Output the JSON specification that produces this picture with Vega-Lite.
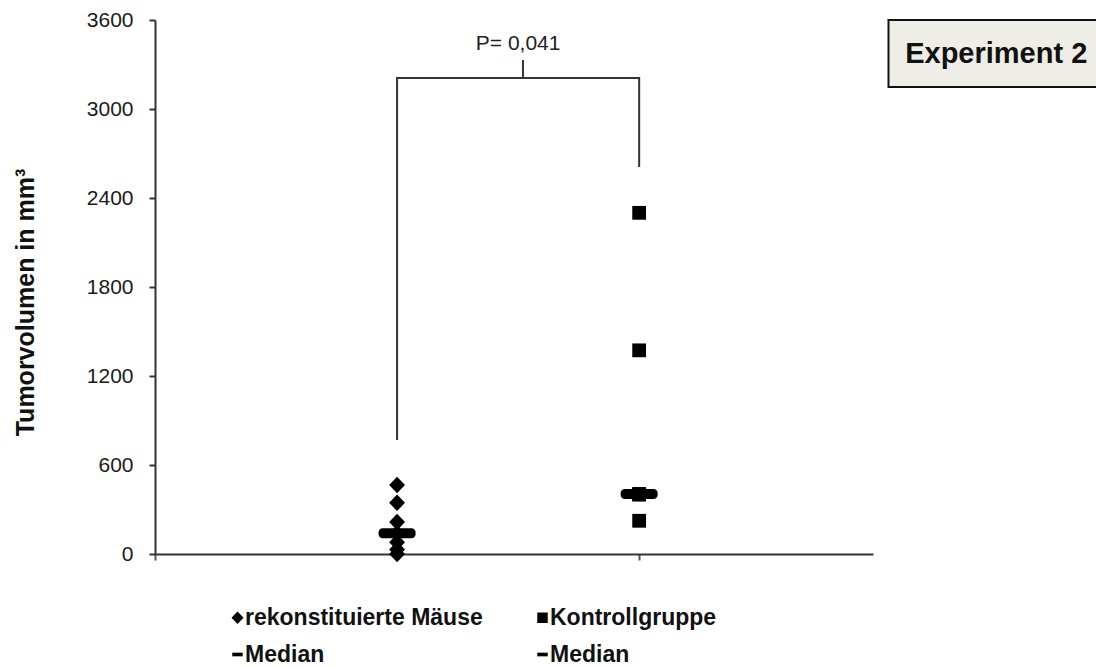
{
  "$schema": "https://vega.github.io/schema/vega-lite/v6.json",
  "width": 718,
  "height": 534,
  "autosize": {"type": "none"},
  "padding": {"left": 155, "top": 20, "right": 223, "bottom": 114},
  "background": "white",
  "config": {"view": {"stroke": null}, "font": "Liberation Sans"},
  "datasets": {
    "punkte": [
      {"gruppe": "rekonstituierte Mäuse", "pos": 1, "wert": 465},
      {"gruppe": "rekonstituierte Mäuse", "pos": 1, "wert": 345},
      {"gruppe": "rekonstituierte Mäuse", "pos": 1, "wert": 215},
      {"gruppe": "rekonstituierte Mäuse", "pos": 1, "wert": 140},
      {"gruppe": "rekonstituierte Mäuse", "pos": 1, "wert": 80},
      {"gruppe": "rekonstituierte Mäuse", "pos": 1, "wert": 30},
      {"gruppe": "rekonstituierte Mäuse", "pos": 1, "wert": 0},
      {"gruppe": "Kontrollgruppe", "pos": 2, "wert": 2300},
      {"gruppe": "Kontrollgruppe", "pos": 2, "wert": 1373},
      {"gruppe": "Kontrollgruppe", "pos": 2, "wert": 405},
      {"gruppe": "Kontrollgruppe", "pos": 2, "wert": 400},
      {"gruppe": "Kontrollgruppe", "pos": 2, "wert": 224}
    ],
    "median": [
      {"gruppe": "rekonstituierte Mäuse", "pos": 1, "wert": 140},
      {"gruppe": "Kontrollgruppe", "pos": 2, "wert": 405}
    ],
    "klammer": [
      {"i": 1, "pos": 1, "wert": 769},
      {"i": 2, "pos": 1, "wert": 3209},
      {"i": 3, "pos": 2, "wert": 3209},
      {"i": 4, "pos": 2, "wert": 2609}
    ]
  },
  "layer": [
    {
      "data": {"name": "klammer"},
      "mark": {"type": "line", "color": "#333333", "strokeWidth": 2},
      "encoding": {
        "x": {
          "field": "pos", "type": "quantitative",
          "scale": {"domain": [0, 2.966], "nice": false, "zero": false},
          "axis": {"values": [0, 1, 2], "labels": false, "tickSize": 6, "tickWidth": 2, "tickColor": "#555555", "domainColor": "#333333", "domainWidth": 2, "title": null, "grid": false}
        },
        "y": {
          "field": "wert", "type": "quantitative",
          "scale": {"domain": [0, 3600], "nice": false, "zero": false},
          "axis": {"values": [0, 600, 1200, 1800, 2400, 3000, 3600], "format": "d", "labelFontSize": 21, "labelFont": "Liberation Sans", "labelColor": "#1a1a1a", "tickSize": 6, "tickWidth": 2, "tickColor": "#333333", "domainColor": "#333333", "domainWidth": 2, "labelPadding": 16, "grid": false, "title": "Tumorvolumen in mm³", "titleFont": "Liberation Sans", "titleFontSize": 25, "titleFontWeight": "bold", "titleColor": "#111111", "titlePadding": 48, "titleY": 282}
        },
        "order": {"field": "i", "type": "quantitative"}
      }
    },
    {
      "data": {"values": [{}]},
      "mark": {"type": "rule", "color": "#333333", "strokeWidth": 2},
      "encoding": {
        "x": {"datum": 1.52},
        "y": {"datum": 3209},
        "y2": {"datum": 3330}
      }
    },
    {
      "data": {"values": [{}]},
      "mark": {"type": "text", "text": "P= 0,041", "fontSize": 21, "font": "Liberation Sans", "color": "#222222", "baseline": "middle", "align": "center"},
      "encoding": {
        "x": {"datum": 1.5},
        "y": {"datum": 3438}
      }
    },
    {
      "data": {"name": "punkte"},
      "mark": {"type": "point", "filled": true, "opacity": 1, "color": "black", "size": 190},
      "encoding": {
        "x": {"field": "pos", "type": "quantitative"},
        "y": {"field": "wert", "type": "quantitative"},
        "shape": {
          "field": "gruppe", "type": "nominal",
          "scale": {
            "domain": ["rekonstituierte Mäuse", "Median1", "Kontrollgruppe", "Median2"],
            "range": ["M-1.15,0L0,-1.2L1.15,0L0,1.2Z", "M-1,-0.35L1,-0.35L1,0.35L-1,0.35Z", "square", "M-1,-0.35L1,-0.35L1,0.35L-1,0.35Z"]
          },
          "legend": {
            "orient": "none", "legendX": 71, "legendY": 586, "columns": 2, "title": null,
            "labelFontSize": 23, "labelFont": "Liberation Sans", "labelFontWeight": "bold", "labelColor": "#111111",
            "labelExpr": "indexof(datum.label, 'Median') === 0 ? 'Median' : datum.label",
            "labelLimit": 400, "labelOffset": -4,
            "symbolSize": 110, "symbolFillColor": "black", "symbolStrokeWidth": 0, "symbolOpacity": 1,
            "rowPadding": 13, "columnPadding": 48
          }
        }
      }
    },
    {
      "data": {"name": "median"},
      "mark": {"type": "tick", "orient": "horizontal", "color": "black", "size": 37, "thickness": 10, "cornerRadius": 4, "opacity": 1},
      "encoding": {
        "x": {"field": "pos", "type": "quantitative"},
        "y": {"field": "wert", "type": "quantitative"}
      }
    },
    {
      "data": {"values": [{}]},
      "mark": {"type": "rect", "fill": "#EEEDE6", "stroke": "#111111", "strokeWidth": 2},
      "encoding": {
        "x": {"datum": 3.03},
        "x2": {"datum": 3.95},
        "y": {"datum": 3600},
        "y2": {"datum": 3148}
      }
    },
    {
      "data": {"values": [{}]},
      "mark": {"type": "text", "text": "Experiment 2", "fontSize": 29, "fontWeight": "bold", "font": "Liberation Sans", "color": "#111111", "baseline": "middle", "align": "center"},
      "encoding": {
        "x": {"datum": 3.475},
        "y": {"datum": 3371}
      }
    }
  ]
}
